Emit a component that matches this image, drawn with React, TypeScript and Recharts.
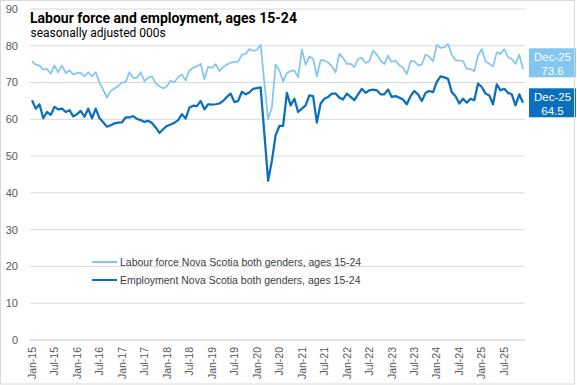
import React from "react"
import { CartesianGrid, LabelList, Line, LineChart, XAxis, YAxis } from "recharts"

const monthNames = ["Jan", "Feb", "Mar", "Apr", "May", "Jun", "Jul", "Aug", "Sep", "Oct", "Nov", "Dec"]
const years = ["15", "16", "17", "18", "19", "20", "21", "22", "23", "24", "25"]
const months = years.flatMap((yr) => monthNames.map((m) => `${m}-${yr}`))

const yTicks = [0, 10, 20, 30, 40, 50, 60, 70, 80, 90]

// Labour force, Nova Scotia, both genders, ages 15-24 (000s)
const labourForce = [
  75.8, 74.9, 74.6, 73.5, 73.7, 72.4, 74.6, 72.8, 74.6, 72.6, 73.3, 72.2,
  72.6, 72.6, 71.7, 72.8, 71.7, 72.8, 70.0, 68.1, 65.9, 67.7, 68.4, 69.0,
  70.0, 70.1, 72.8, 71.3, 71.3, 72.8, 70.4, 71.3, 71.7, 69.8, 69.0, 68.4,
  69.0, 70.5, 70.1, 71.5, 72.2, 70.6, 73.3, 74.0, 74.4, 75.1, 70.9, 74.3,
  74.0, 75.0, 73.1, 74.2, 74.9, 75.4, 75.6, 75.7, 77.6, 77.7, 79.1, 78.6,
  78.9, 80.3, 70.0, 60.0, 63.2, 74.9, 73.3, 70.3, 72.6, 73.1, 73.3, 71.4,
  79.0, 74.9, 77.1, 76.5, 71.7, 76.1, 76.0, 75.5, 74.4, 72.8, 77.8, 76.7,
  75.1, 75.1, 74.2, 76.4, 76.7, 75.3, 75.8, 78.7, 77.6, 76.0, 75.0, 77.3,
  75.6, 76.0, 74.7, 74.0, 72.3, 75.8, 75.8, 74.7, 74.9, 77.6, 77.0, 75.8,
  80.3, 79.4, 79.6, 80.5, 77.6, 76.0, 76.0, 75.8, 73.7, 73.7, 73.1, 77.3,
  79.1, 75.8, 75.1, 74.4, 78.2, 77.8, 79.1, 76.9, 76.4, 75.1, 77.6, 73.6,
]

// Employment, Nova Scotia, both genders, ages 15-24 (000s)
const employment = [
  65.2, 62.9, 64.1, 60.3, 62.0, 61.2, 63.4, 62.7, 62.9, 62.0, 62.5, 60.8,
  61.4, 62.3, 60.7, 62.9, 60.3, 62.9, 60.3, 59.2, 58.0, 58.4, 58.9, 59.1,
  59.2, 60.5, 60.5, 60.9, 60.1, 59.8, 59.3, 59.6, 59.0, 57.8, 56.3, 57.3,
  58.2, 58.6, 59.1, 59.8, 61.4, 60.2, 63.2, 63.7, 63.6, 65.0, 62.7, 64.1,
  64.0, 64.1, 64.3, 65.0, 66.1, 67.0, 64.7, 65.0, 67.5, 66.8, 67.3, 68.3,
  68.5, 68.7, 56.0, 43.3, 48.7, 55.7, 58.2, 58.2, 67.2, 63.8, 65.6, 62.0,
  62.9, 63.8, 66.5, 66.3, 59.1, 64.3, 65.6, 66.1, 67.0, 67.0, 65.9, 65.4,
  67.0, 66.1, 65.2, 66.8, 68.3, 67.2, 67.9, 68.1, 67.9, 66.8, 66.8, 68.1,
  66.1, 66.3, 65.9, 65.4, 64.1, 66.3, 67.7, 66.8, 65.0, 67.2, 67.7, 67.4,
  70.2, 71.7, 71.4, 71.0, 67.4, 66.3, 64.3, 65.6, 64.5, 65.6, 65.2, 69.7,
  68.8, 67.0, 66.5, 64.1, 69.5, 67.9, 68.3, 67.2, 66.8, 63.8, 66.8, 64.5,
]

const data = months.map((month, i) => ({
  month,
  labour: labourForce[i],
  employment: employment[i],
}))

const LIGHT = "#83c6f2"
const DARK = "#0a6fbd"
const FONT = "'Liberation Sans', Arial, sans-serif"

function MonthTick({ x, y, payload }: any) {
  return (
    <g transform={`translate(${x},${y})`}>
      <text
        transform="rotate(-90)"
        x={-7}
        y={0}
        dy="0.35em"
        textAnchor="end"
        fontSize={10.5}
        fontFamily={FONT}
        fill="#595959"
      >
        {payload.value}
      </text>
    </g>
  )
}

function endLabel(color: string, shift: number) {
  return (props: any) => {
    const { x, y, index, value } = props
    if (index !== data.length - 1) return null
    const cy = y + shift
    return (
      <g>
        <rect x={x + 6} y={cy - 14.5} width={47} height={29} fill={color} />
        <text x={x + 29.5} y={cy - 2} textAnchor="middle" fontSize={11.5} fontFamily={FONT} fill="#fff">
          {months[index]}
        </text>
        <text x={x + 29.5} y={cy + 12} textAnchor="middle" fontSize={11.5} fontFamily={FONT} fill="#fff">
          {Number(value).toFixed(1)}
        </text>
      </g>
    )
  }
}

const legendItems = [
  { color: LIGHT, width: 2, label: "Labour force Nova Scotia both genders, ages 15-24" },
  { color: DARK, width: 2.5, label: "Employment Nova Scotia both genders, ages 15-24" },
]

export default function App() {
  return (
    <div style={{ position: "absolute", left: 0, top: 0, width: 577, height: 385, background: "#fff" }}>
      <LineChart width={577} height={385} data={data} margin={{ top: 9, right: 52, bottom: 0, left: 0 }}>
        <CartesianGrid vertical={false} stroke="#d9d9d9" />
        <XAxis
          dataKey="month"
          interval={5}
          tick={<MonthTick />}
          tickLine={false}
          tickSize={0}
          tickMargin={0}
          axisLine={{ stroke: "#d9d9d9" }}
          height={45}
          padding={{ left: 2, right: 2 }}
        />
        <YAxis
          domain={[0, 90]}
          ticks={yTicks}
          width={30}
          axisLine={false}
          tickLine={false}
          tickSize={0}
          tickMargin={12}
          tick={{ fontSize: 11, fill: "#595959", fontFamily: FONT }}
        />
        <Line
          dataKey="labour"
          stroke={LIGHT}
          strokeWidth={1.75}
          dot={false}
          isAnimationActive={false}
          strokeLinejoin="round"
        >
          <LabelList dataKey="labour" content={endLabel(LIGHT, -6.5)} />
        </Line>
        <Line
          dataKey="employment"
          stroke={DARK}
          strokeWidth={2.25}
          dot={false}
          isAnimationActive={false}
          strokeLinejoin="round"
        >
          <LabelList dataKey="employment" content={endLabel(DARK, 0)} />
        </Line>
      </LineChart>
      <div
        style={{
          position: "absolute",
          left: 92,
          top: 253,
          fontFamily: FONT,
          fontSize: 10.5,
          color: "#404040",
        }}
      >
        {legendItems.map((it) => (
          <div key={it.label} style={{ display: "flex", alignItems: "center", height: 18 }}>
            <div style={{ width: 25, height: it.width, background: it.color, marginRight: 3 }} />
            <span>{it.label}</span>
          </div>
        ))}
      </div>
      <svg
        width={577}
        height={385}
        style={{ position: "absolute", left: 0, top: 0, pointerEvents: "none" }}
      >
        <rect x={0.5} y={0.5} width={574} height={383.5} fill="none" stroke="#d9d9d9" />
        <text x={30} y={22.5} fontFamily="Roboto, sans-serif" fontWeight={700} fontSize={14} fill="#000">
          Labour force and employment, ages 15-24
        </text>
        <text x={30.5} y={37} fontFamily="Roboto, sans-serif" fontSize={12} fill="#000">
          seasonally adjusted 000s
        </text>
      </svg>
    </div>
  )
}
